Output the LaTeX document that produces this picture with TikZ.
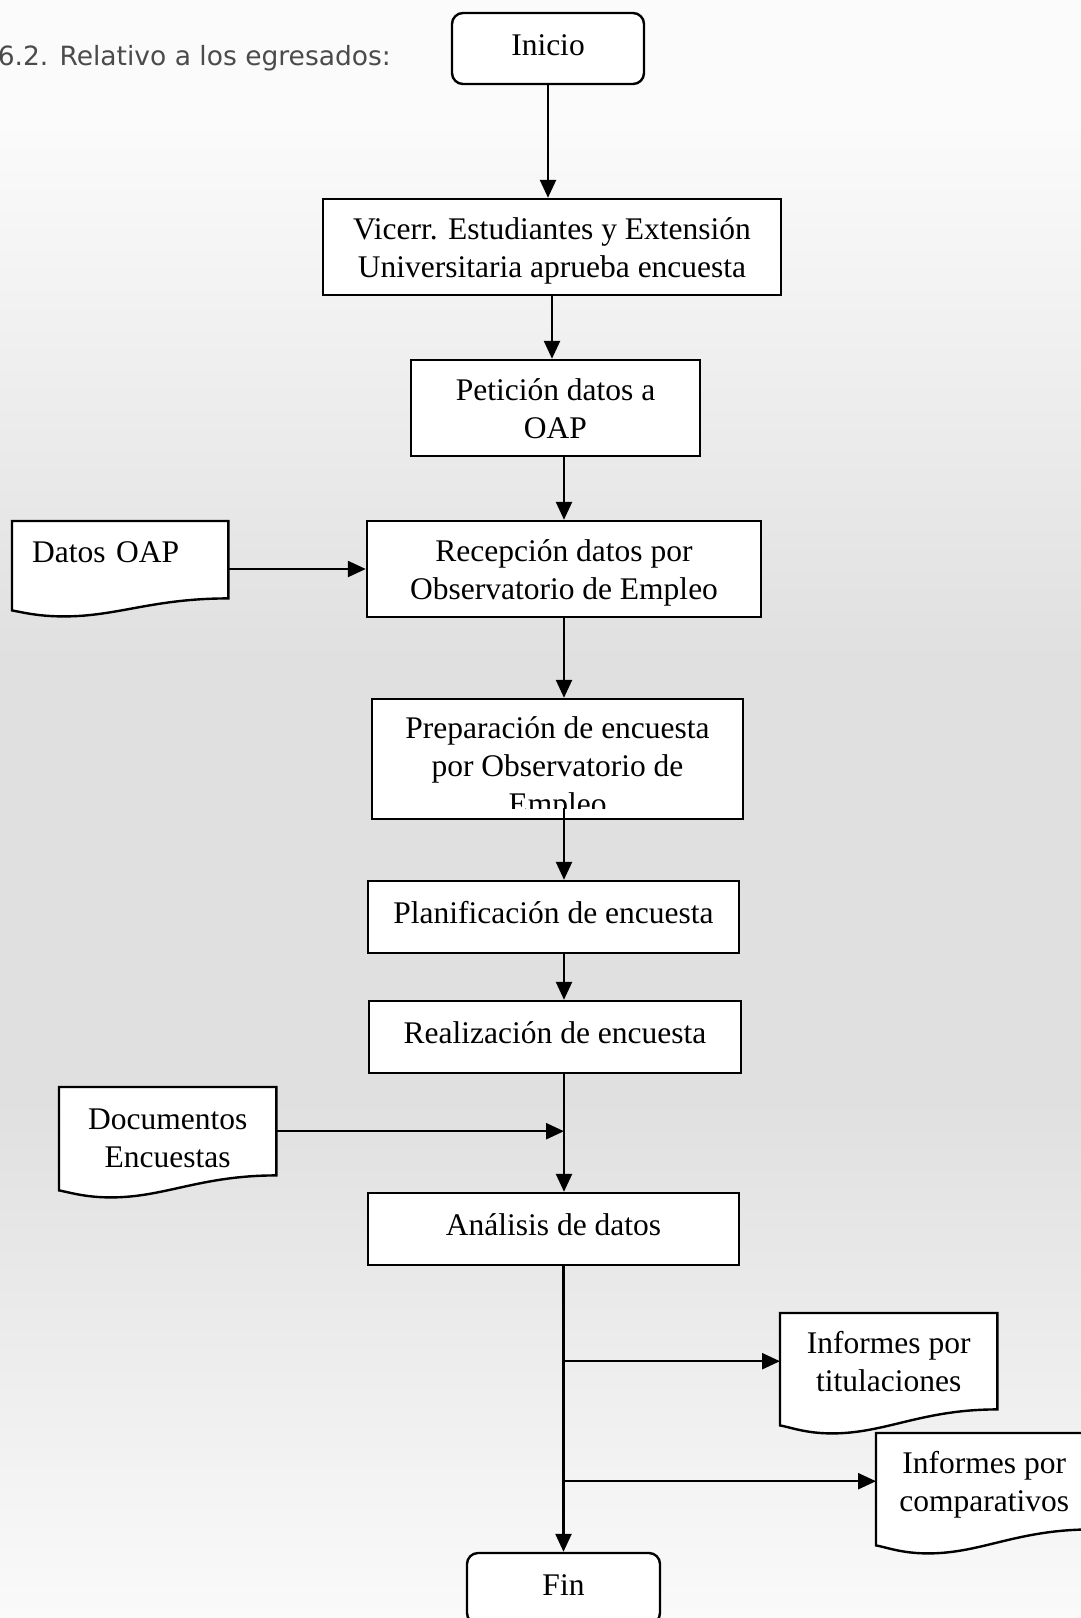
\documentclass[tikz,border=0pt]{standalone}
\usepackage{fontspec}
\setmainfont{Liberation Serif}
\newfontfamily\labelfont{DejaVu Sans}
\usetikzlibrary{arrows.meta}
\definecolor{bgtop}{RGB}{251,251,251}
\definecolor{bgmid}{RGB}{224,224,224}
\definecolor{bgbot}{RGB}{250,250,250}
\definecolor{labelgray}{RGB}{75,75,75}
\pgfdeclarelayer{bg}
\pgfdeclarelayer{paper}
\pgfsetlayers{bg,paper,main}
\newcommand{\docshape}[3]{%
 \begin{pgfonlayer}{paper}
 \draw[line width=2.4pt, fill=white] (#1.south west) -- (#1.north west) -- (#1.north east) -- (#1.south east)
   .. controls +(-76,0) and +(54,0) .. ([shift={(52,#2)}]#1.south west)
   .. controls +(-26,0) and +(11,2) .. ([shift={(0,#3)}]#1.south west) -- cycle;
 \end{pgfonlayer}}

\begin{document}
\begin{tikzpicture}[x=1pt,y=-1pt,>={Triangle[length=18pt,width=16pt]}]
 \tikzstyle{every node}=[font=\fontsize{31.5}{38}\selectfont, inner sep=0pt]
 \tikzstyle{flow}=[->, line width=2.4pt]
 \tikzstyle{lines}=[text height=72pt, text depth=12pt]
 \tikzstyle{proc}=[draw, line width=2.4pt, fill=white, align=center, lines]
 \tikzstyle{oneline}=[proc, text height=21pt, text depth=8pt]
 \tikzstyle{term}=[oneline, rounded corners=11pt]
 \tikzstyle{doc}=[anchor=north west, align=center, minimum width=217pt, lines]
 \useasboundingbox (0,0) rectangle (1081,1618);
 \begin{pgfonlayer}{bg}
  \fill[bgtop] (0,0) rectangle (1081,121);
  \shade[top color=bgtop, bottom color=bgmid] (0,120) rectangle (1081,660);
  \fill[bgmid] (0,659) rectangle (1081,1101);
  \shade[top color=bgmid, bottom color=bgbot] (0,1100) rectangle (1081,1618);
 \end{pgfonlayer}

 \node[anchor=base east, text=labelgray, font={\labelfont\fontsize{26.5}{32}\selectfont}] (titulo) at (391,65) {6.2. Relativo a los egresados:};

 \node[term, minimum width=192pt, minimum height=71pt] (inicio) at (548,48.5) {Inicio};
 \node[proc, minimum width=458pt, minimum height=96pt] (vicerr) at (552,247) {Vicerr. Estudiantes y Extensión\\Universitaria aprueba encuesta};
 \node[proc, minimum width=289pt, minimum height=96pt] (peticion) at (555.5,408) {Petición datos a\\OAP};
 \node[proc, minimum width=394pt, minimum height=96pt] (recepcion) at (564,569) {Recepción datos por\\Observatorio de Empleo};
 \node[proc, minimum width=371pt, minimum height=120pt] (preparacion) at (557.5,759) {};
 \begin{scope}
  \clip (372,690) rectangle (744,808);
  \node[anchor=north, align=center] (preptexto) at (557.5,716.5) {Preparación de encuesta\\por Observatorio de\\Empleo};
 \end{scope}
 \node[oneline, minimum width=371pt, minimum height=72pt] (planificacion) at (553.5,917) {Planificación de encuesta};
 \node[oneline, minimum width=372pt, minimum height=72pt] (realizacion) at (555,1037) {Realización de encuesta};
 \node[oneline, minimum width=371pt, minimum height=72pt] (analisis) at (553.5,1229) {Análisis de datos};
 \node[term, minimum width=193pt, minimum height=71pt] (fin) at (563.5,1588.5) {Fin};

 \node[doc, minimum width=216pt, align=left, text width=176pt, inner xsep=20pt, text height=41pt, text depth=36pt] (datos) at (12,521) {Datos OAP};
 \node[doc, minimum height=88pt, text height=80pt, text depth=8pt] (documentos) at (59,1087) {Documentos\\Encuestas};
 \node[doc, minimum height=96pt] (informetit) at (780,1313) {Informes por\\titulaciones};
 \node[doc, minimum height=96pt, minimum width=216pt] (informecomp) at (876,1433) {Informes por\\comparativos};
 \docshape{datos}{18}{12}
 \docshape{documentos}{22}{15}
 \docshape{informetit}{24}{16}
 \docshape{informecomp}{24}{16}

 \coordinate (prepsalida) at (564,808);
 \draw[flow] (inicio.south) -- (inicio.south |- vicerr.north);
 \draw[flow] (vicerr.south) -- (vicerr.south |- peticion.north);
 \draw[flow] (peticion.south -| recepcion.north) -- (recepcion.north);
 \draw[flow] (datos.east |- recepcion.west) -- (recepcion.west);
 \draw[flow] (recepcion.south) -- (recepcion.south |- preparacion.north);
 \draw[flow] (prepsalida) -- (prepsalida |- planificacion.north);
 \draw[flow] (recepcion.south |- planificacion.south) -- (recepcion.south |- realizacion.north);
 \draw[flow] (recepcion.south |- realizacion.south) -- (recepcion.south |- analisis.north);
 \draw[flow] (documentos.east) -- (documentos.east -| recepcion.south);
 \draw[flow] (fin.north |- analisis.south) -- (fin.north);
 \draw[flow] (fin.north |- informetit.west) -- (informetit.west);
 \draw[flow] (fin.north |- informecomp.west) -- (informecomp.west);
\end{tikzpicture}
\end{document}
